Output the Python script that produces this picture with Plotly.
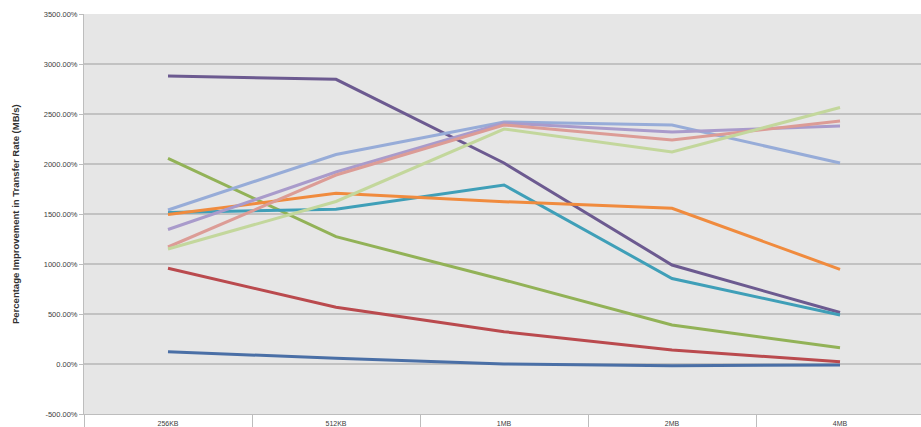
import plotly.graph_objects as go

# Block sizes on the category axis
block_sizes = ["256KB", "512KB", "1MB", "2MB", "4MB"]

# Percentage improvement in transfer rate for each configuration
series_a = [123, 57, 0, -17, -10]
series_b = [957, 567, 323, 140, 23]
series_c = [2057, 1273, 840, 390, 163]
series_d = [2880, 2847, 2010, 990, 515]
series_e = [1515, 1547, 1790, 855, 490]
series_f = [1495, 1707, 1623, 1557, 947]
series_g = [1540, 2095, 2420, 2390, 2010]
series_h = [1345, 1920, 2410, 2320, 2380]
series_i = [1170, 1890, 2390, 2240, 2430]
series_j = [1150, 1625, 2350, 2120, 2565]

y_ticks = [-500, 0, 500, 1000, 1500, 2000, 2500, 3000, 3500]
y_tick_labels = [f"{v:.2f}%" for v in y_ticks]

series = [
    (series_a, "#4A6FA6"),
    (series_b, "#BA4A4E"),
    (series_c, "#92B257"),
    (series_d, "#6C5A90"),
    (series_e, "#3F9FB8"),
    (series_f, "#F08B3E"),
    (series_g, "#97ACD8"),
    (series_h, "#A99BCB"),
    (series_i, "#DC9C96"),
    (series_j, "#C3D79C"),
]

fig = go.Figure()
for values, color in series:
    fig.add_trace(go.Scatter(
        x=block_sizes, y=values, mode="lines",
        line=dict(color=color, width=3),
        showlegend=False, hoverinfo="skip",
    ))

font_family = "Liberation Sans"

fig.update_layout(
    width=921, height=427,
    margin=dict(l=84, r=0, t=14, b=13),
    paper_bgcolor="white",
    plot_bgcolor="#E6E6E6",
    font=dict(family=font_family, size=7, color="#404040"),
)

fig.update_xaxes(
    type="category",
    range=[-0.5, 4.482],
    showgrid=False,
    showline=True, linecolor="#BDBDBD", linewidth=1,
    ticks="outside", tickson="boundaries", ticklen=14,
    tickcolor="#BDBDBD", tickwidth=1,
    ticklabelstandoff=3,
    tickfont=dict(size=7, color="#404040"),
)

fig.update_yaxes(
    range=[-500, 3500],
    tickvals=y_ticks, ticktext=y_tick_labels,
    showgrid=True, gridcolor="#C2C2C2", gridwidth=1.5,
    zeroline=False,
    showline=True, linecolor="#BDBDBD", linewidth=1,
    ticks="outside", ticklen=4, tickcolor="#BDBDBD",
    tickfont=dict(size=7.5, color="#404040"),
)

fig.add_annotation(
    text="<b>Percentage Improvement in Transfer Rate (MB/s)</b>",
    xref="paper", yref="paper",
    x=(15 - 84) / 837, y=0.5,
    xanchor="center", yanchor="middle",
    textangle=-90, showarrow=False,
    font=dict(family=font_family, size=9.5, color="#303030"),
)

fig.write_html("out.html")
